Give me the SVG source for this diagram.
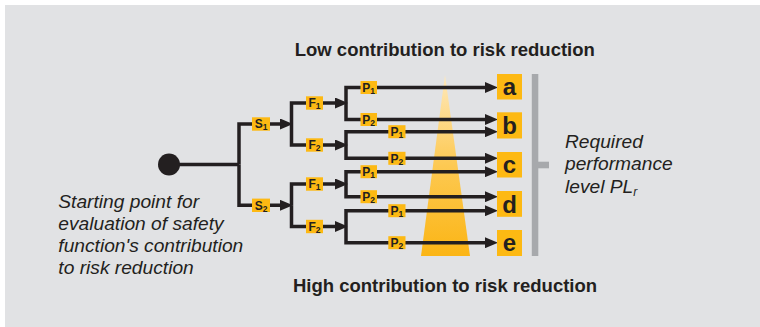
<svg xmlns="http://www.w3.org/2000/svg" width="760" height="327" viewBox="0 0 760 327">
<defs>
<linearGradient id="tri" x1="0" y1="0" x2="0" y2="1">
<stop offset="0" stop-color="#fee9bd"/>
<stop offset="0.5" stop-color="#fdc952"/>
<stop offset="1" stop-color="#fbb515"/>
</linearGradient>
<marker id="arr" markerUnits="userSpaceOnUse" markerWidth="13" markerHeight="11" refX="5" refY="5.5" orient="auto">
<path d="M0,0 L13,5.5 L0,11 z" fill="#231f20"/>
</marker>
<style>
.ln{fill:none;stroke:#231f20;stroke-width:3.5;stroke-linejoin:miter}
.ar{marker-end:url(#arr)}
.bx{fill:#fdb913}
.lb{font-family:"Liberation Sans",Arial,sans-serif;font-weight:bold;font-size:12px;fill:#231f20;text-anchor:middle}
.sub{font-size:8.5px}
.big{font-family:"Liberation Sans",Arial,sans-serif;font-weight:bold;font-size:24px;fill:#231f20;text-anchor:middle}
.hd{font-family:"Liberation Sans",Arial,sans-serif;font-weight:bold;font-size:18.5px;fill:#231f20;text-anchor:middle}
.it{font-family:"Liberation Sans",Arial,sans-serif;font-style:italic;font-size:19.2px;fill:#231f20}
</style>
</defs>
<rect x="5" y="5" width="755" height="322" fill="#e1e2e4"/>
<polygon points="445,75 421,256 470,256" fill="url(#tri)"/>
<g id="connectors">
<path class="ln" d="M178,164.5 H239"/>
<path class="ln ar" d="M239,164.5 V124 H285"/>
<path class="ln ar" d="M239,164.5 V205.3 H285"/>
<path class="ln ar" d="M291.5,124 V103 H340"/>
<path class="ln ar" d="M291.5,124 V145 H340"/>
<path class="ln ar" d="M291.5,205.3 V184 H340"/>
<path class="ln ar" d="M291.5,205.3 V226.5 H340"/>
<path class="ln ar" d="M346,103 V87.5 H490"/>
<path class="ln ar" d="M346,103 V119.5 H490"/>
<path class="ln ar" d="M346,145 V131.7 H490"/>
<path class="ln ar" d="M346,145 V158.3 H490"/>
<path class="ln ar" d="M346,184 V171.7 H490"/>
<path class="ln ar" d="M346,184 V196.7 H490"/>
<path class="ln ar" d="M346,226.5 V210.7 H490"/>
<path class="ln ar" d="M346,226.5 V242.7 H490"/>
</g>
<g id="start"><circle cx="169" cy="164.5" r="11" fill="#231f20"/></g>
<g id="S1"><rect class="bx" x="252" y="117.3" width="18" height="13.4"/><text class="lb" x="261" y="128.3">S<tspan class="sub" dy="2">1</tspan></text></g>
<g id="S2"><rect class="bx" x="252" y="198.6" width="18" height="13.4"/><text class="lb" x="261" y="209.6">S<tspan class="sub" dy="2">2</tspan></text></g>
<g id="F1a"><rect class="bx" x="306" y="96.3" width="17" height="13.4"/><text class="lb" x="314.5" y="107.3">F<tspan class="sub" dy="2">1</tspan></text></g>
<g id="F2a"><rect class="bx" x="306" y="138.3" width="17" height="13.4"/><text class="lb" x="314.5" y="149.3">F<tspan class="sub" dy="2">2</tspan></text></g>
<g id="F1b"><rect class="bx" x="306" y="177.3" width="17" height="13.4"/><text class="lb" x="314.5" y="188.3">F<tspan class="sub" dy="2">1</tspan></text></g>
<g id="F2b"><rect class="bx" x="306" y="219.8" width="17" height="13.4"/><text class="lb" x="314.5" y="230.8">F<tspan class="sub" dy="2">2</tspan></text></g>
<g id="P1a"><rect class="bx" x="360.5" y="81" width="16.5" height="13"/><text class="lb" x="368.7" y="91.7">P<tspan class="sub" dy="2">1</tspan></text></g>
<g id="P2a"><rect class="bx" x="360.5" y="113" width="16.5" height="13"/><text class="lb" x="368.7" y="123.7">P<tspan class="sub" dy="2">2</tspan></text></g>
<g id="P1b"><rect class="bx" x="388.3" y="125.2" width="17.2" height="13"/><text class="lb" x="396.9" y="135.9">P<tspan class="sub" dy="2">1</tspan></text></g>
<g id="P2b"><rect class="bx" x="388.3" y="151.8" width="17.2" height="13"/><text class="lb" x="396.9" y="162.5">P<tspan class="sub" dy="2">2</tspan></text></g>
<g id="P1c"><rect class="bx" x="360.5" y="165.2" width="16.5" height="13"/><text class="lb" x="368.7" y="175.9">P<tspan class="sub" dy="2">1</tspan></text></g>
<g id="P2c"><rect class="bx" x="360.5" y="190.2" width="16.5" height="13"/><text class="lb" x="368.7" y="200.9">P<tspan class="sub" dy="2">2</tspan></text></g>
<g id="P1d"><rect class="bx" x="388.3" y="204.2" width="17.2" height="13"/><text class="lb" x="396.9" y="214.9">P<tspan class="sub" dy="2">1</tspan></text></g>
<g id="P2d"><rect class="bx" x="388.3" y="236.2" width="17.2" height="13"/><text class="lb" x="396.9" y="246.9">P<tspan class="sub" dy="2">2</tspan></text></g>
<g id="a"><rect class="bx" x="497" y="74" width="25" height="25.5"/><text class="big" x="509.5" y="95">a</text></g>
<g id="b"><rect class="bx" x="497" y="112.3" width="25" height="26.2"/><text class="big" x="509.5" y="134">b</text></g>
<g id="c"><rect class="bx" x="497" y="152" width="25" height="25.5"/><text class="big" x="509.5" y="173">c</text></g>
<g id="d"><rect class="bx" x="497" y="191" width="25" height="25.8"/><text class="big" x="509.5" y="212.5">d</text></g>
<g id="e"><rect class="bx" x="497" y="230" width="25" height="26"/><text class="big" x="509.5" y="251">e</text></g>
<g id="bracket" fill="#a7a9ac">
<rect x="531.8" y="74" width="6.5" height="182"/>
<rect x="538" y="161.7" width="11" height="6.6"/>
</g>
<text class="hd" x="444.8" y="55.7">Low contribution to risk reduction</text>
<text class="hd" x="445" y="291.7">High contribution to risk reduction</text>
<g id="start-label" class="it">
<text x="58.3" y="208.3">Starting point for</text>
<text x="58.3" y="230">evaluation of safety</text>
<text x="58.3" y="252">function's contribution</text>
<text x="58.3" y="274.3">to risk reduction</text>
</g>
<g id="pl-label" class="it">
<text x="565" y="148.3">Required</text>
<text x="565" y="170">performance</text>
<text x="565" y="192.7">level PL<tspan font-size="12" dy="3">r</tspan></text>
</g>
</svg>
